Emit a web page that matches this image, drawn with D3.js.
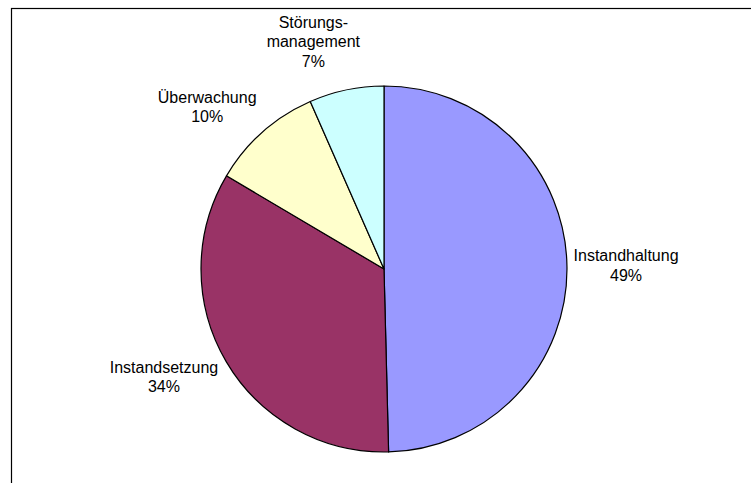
<!DOCTYPE html>
<html>
<head>
<meta charset="utf-8">
<script src="https://cdn.jsdelivr.net/npm/d3@7"></script>
<style>
  html, body { margin: 0; padding: 0; background: #ffffff; }
  svg { display: block; }
  text { font-family: Arial, "Liberation Sans", sans-serif; }
</style>
</head>
<body>
<svg id="chart" width="751" height="483"></svg>
<script>
// Data
const categories = ["Instandhaltung", "Instandsetzung", "Überwachung", "Störungs-\nmanagement"];
const values = [49.6, 33.9, 9.9, 6.6];
const percentLabels = ["49%", "34%", "10%", "7%"];
const colors = ["#9999FF", "#993366", "#FFFFCC", "#CCFFFF"];

const svg = d3.select("#chart");

// Frame
svg.append("rect")
  .attr("x", 11.5).attr("y", 8.5)
  .attr("width", 800).attr("height", 600)
  .attr("fill", "#ffffff")
  .attr("stroke", "#000000").attr("stroke-width", 1.2);

const cx = 384, cy = 269, r = 183;

const pie = d3.pie().sort(null).value(d => d.v);
const arcs = pie(values.map((v, i) => ({ v, i })));
const arc = d3.arc().innerRadius(0).outerRadius(r);

const g = svg.append("g").attr("transform", `translate(${cx},${cy})`);
g.selectAll("path").data(arcs).join("path")
  .attr("d", arc)
  .attr("fill", d => colors[d.data.i])
  .attr("stroke", "#000000")
  .attr("stroke-width", 1.2)
  .attr("stroke-linejoin", "round");

// Label placement: angle offset (deg) from slice middle and radius factor
const fontSize = 16;
const lineH = 19.6;
const labelAngleOffset = [-0.2, 4.3, -5.9, -5.4];
const labelRadius = [1.323, 1.339, 1.311, 1.30];
arcs.forEach(d => {
  const i = d.data.i;
  const mid = (d.startAngle + d.endAngle) / 2 + labelAngleOffset[i] * Math.PI / 180;
  const lines = categories[i].split("\n").concat([percentLabels[i]]);
  const lr = r * labelRadius[i];
  const x = cx + Math.sin(mid) * lr;
  const y = cy - Math.cos(mid) * lr;
  const n = lines.length;
  const t = svg.append("text")
    .attr("text-anchor", "middle")
    .attr("font-size", fontSize)
    .attr("fill", "#000000");
  lines.forEach((ln, k) => {
    t.append("tspan")
      .attr("x", x)
      .attr("y", y + (k - (n - 1) / 2) * lineH + fontSize * 0.35)
      .text(ln);
  });
});
</script>
</body>
</html>
